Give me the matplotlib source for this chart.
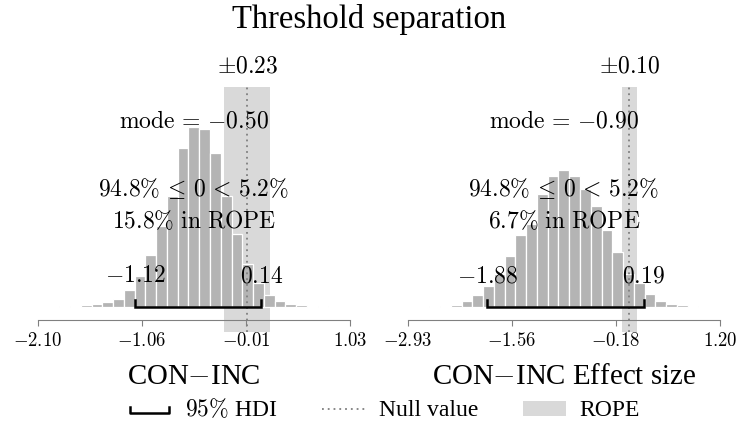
import numpy as np
import matplotlib
matplotlib.use('Agg')
import matplotlib.pyplot as plt
from matplotlib.lines import Line2D
from matplotlib.patches import Patch
from matplotlib.legend_handler import HandlerBase
from matplotlib.transforms import blended_transform_factory

plt.rcParams['font.family'] = 'serif'
plt.rcParams['font.serif'] = ['Liberation Serif', 'DejaVu Serif']
plt.rcParams['mathtext.fontset'] = 'cm'

# posterior summaries for both contrasts
labels = ['CON$-$INC', 'CON$-$INC Effect size']
x_min = [-2.10, -2.934]
x_max = [1.03, 1.198]
modes = [-0.50, -0.90]
hdi_low = [-1.12, -1.88]
hdi_high = [0.14, 0.19]
rope = [0.23, 0.10]
pct_below = [94.8, 94.8]
pct_above = [5.2, 5.2]
pct_in_rope = [15.8, 6.7]
null_value = 0.0

# histogram bar heights (29 equal bins spanning x_min..x_max)
counts_diff = [0.3, 0.4, 0.6, 1.0, 1.7, 2.7, 4.7, 8.3, 17, 30.7, 51.7, 81.3, 111, 158.7, 180,
               178, 154, 111, 73, 43.3, 24, 11.5, 5.8, 3.2, 1.8, 0.9, 0.5, 0.3, 0.2]
counts_es = [0.2, 0.3, 0.5, 0.8, 2.0, 6.0, 11.5, 20.7, 32.5, 50.5, 71.5, 83, 112.7, 131, 137,
             130.5, 118, 100.5, 77, 55, 33.3, 23.5, 13.3, 6, 3.3, 1.7, 0.7, 0.4, 0.2]
all_counts = [counts_diff, counts_es]

bar_col = '#b4b4b4'
rope_col = '#d9d9d9'
null_col = '#7f7f7f'


class HDIHandler(HandlerBase):
    def create_artists(self, legend, orig_handle, xdescent, ydescent, width, height, fontsize, trans):
        x0 = -xdescent + 0.05 * width
        x1 = -xdescent + 0.95 * width
        y0 = -ydescent + 0.2 * height
        y1 = -ydescent + 0.55 * height
        ln = Line2D([x0, x0, x1, x1], [y1, y0, y0, y1], color='black', lw=1.8, transform=trans)
        return [ln]


fig = plt.figure(figsize=(7.39, 4.32), dpi=100)
axes = [fig.add_axes([0.051, 0.2322, 0.4226, 0.5671]),
        fig.add_axes([0.5517, 0.2322, 0.4226, 0.5671])]

for i, ax in enumerate(axes):
    edges = np.linspace(x_min[i], x_max[i], len(all_counts[i]) + 1)
    ax.axvspan(null_value - rope[i], null_value + rope[i], color=rope_col, lw=0, zorder=0)
    ax.bar(edges[:-1], all_counts[i], width=np.diff(edges), align='edge',
           color=bar_col, edgecolor='white', linewidth=0.9, zorder=1)
    ax.axvline(null_value, color=null_col, ls=(0, (1, 2.2)), lw=1.3, zorder=2)
    ax.plot([hdi_low[i], hdi_low[i], hdi_high[i], hdi_high[i]], [6.5, 0, 0, 6.5],
            color='black', lw=1.8, zorder=3, solid_joinstyle='miter')

    ax.set_xlim(x_min[i], x_max[i])
    ax.set_ylim(-24.7, 220.3)
    for s in ['left', 'right', 'top']:
        ax.spines[s].set_visible(False)
    ax.spines['bottom'].set_position(('axes', 0.048))
    ax.spines['bottom'].set_color('#808080')
    ticks = np.linspace(x_min[i], x_max[i], 4)
    ax.set_xticks(ticks)
    ax.set_xticklabels(['$%.2f$' % t for t in ticks], fontsize=13.5)
    ax.tick_params(axis='x', colors='#808080', labelcolor='black', length=4, pad=5)
    ax.set_yticks([])

    tr = blended_transform_factory(ax.transData, ax.transAxes)
    ax.text(null_value, 1.08, r'$\pm%.2f$' % rope[i], transform=tr, ha='center', va='center', fontsize=17)
    ax.text(0.5, 0.857, r'$\mathrm{mode}\,=\,{%.2f}$' % modes[i], transform=ax.transAxes,
            ha='center', va='center', fontsize=17)
    ax.text(0.5, 0.5865, r'$%.1f\%%\,\leq\,0\,<\,%.1f\%%$' % (pct_below[i], pct_above[i]),
            transform=ax.transAxes, ha='center', va='center', fontsize=17)
    ax.text(0.5, 0.449, r'$%.1f\%%\ \mathrm{in\ ROPE}$' % pct_in_rope[i],
            transform=ax.transAxes, ha='center', va='center', fontsize=17)
    ax.text(hdi_low[i], 0.2245, '$%.2f$' % hdi_low[i], transform=tr, ha='center', va='center', fontsize=17)
    ax.text(hdi_high[i], 0.2245, '$%.2f$' % hdi_high[i], transform=tr, ha='center', va='center', fontsize=17)
    ax.text(0.5, -0.184, labels[i], transform=ax.transAxes, ha='center', va='center', fontsize=20.8)

fig.text(0.5, 0.954, 'Threshold separation', ha='center', va='center', fontsize=23.5)

hdi_handle = Line2D([], [], color='black')
null_handle = Line2D([], [], color=null_col, ls=(0, (1, 2.2)), lw=1.3)
rope_handle = Patch(color=rope_col, lw=0)
fig.legend([hdi_handle, null_handle, rope_handle], [r'$95\%$ HDI', 'Null value', 'ROPE'],
           handler_map={hdi_handle: HDIHandler()}, loc='center', bbox_to_anchor=(0.52, 0.052),
           ncol=3, frameon=False, fontsize=17, handlelength=1.8, handletextpad=0.6,
           columnspacing=1.9, borderpad=0, handleheight=0.6)

fig.savefig('out.png', dpi=100)
